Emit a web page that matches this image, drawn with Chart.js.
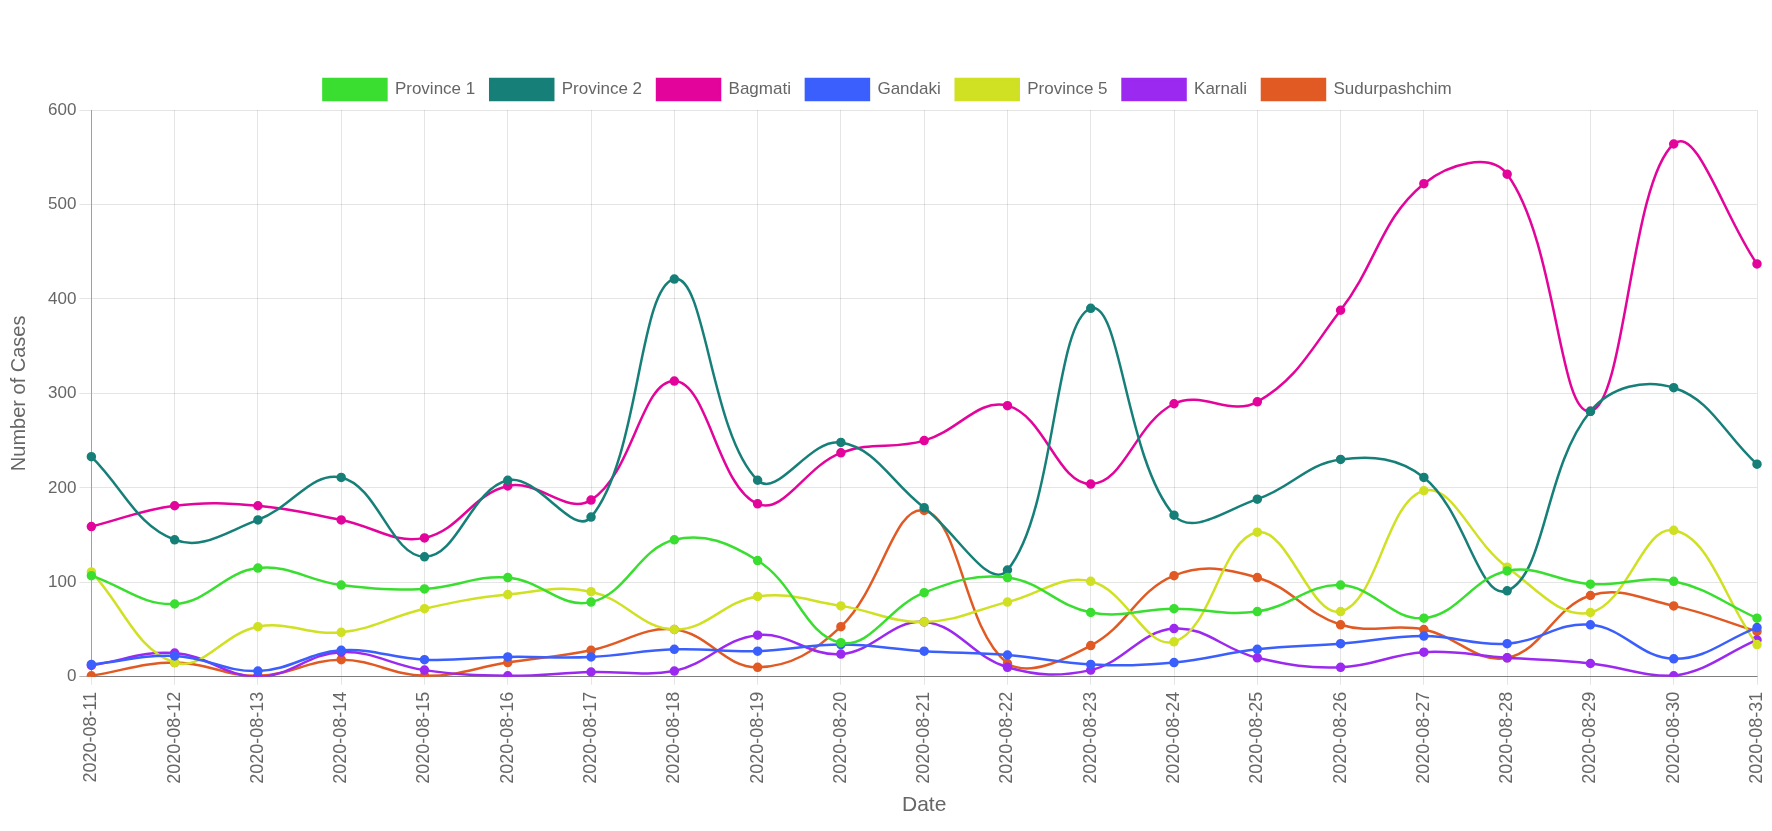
<!DOCTYPE html>
<html lang="en">
<head>
  <meta charset="UTF-8">
  <title>Cases by Province</title>
  <script src="https://cdn.jsdelivr.net/npm/chart.js"></script>
  <style>
    body { margin: 0; background: #fff; }
  </style>
</head>
<body>
  <canvas id="graph" width="1772" height="831"></canvas>

  <script>
    // fechas
    const dates = [
      "2020-08-11", "2020-08-12", "2020-08-13", "2020-08-14", "2020-08-15", "2020-08-16", "2020-08-17",
      "2020-08-18", "2020-08-19", "2020-08-20", "2020-08-21", "2020-08-22", "2020-08-23", "2020-08-24",
      "2020-08-25", "2020-08-26", "2020-08-27", "2020-08-28", "2020-08-29", "2020-08-30", "2020-08-31"
    ];

    const province1 = [107, 77, 115, 97, 93, 105, 79, 145, 123, 36, 89, 105, 68, 72, 69, 97, 62, 112, 98, 101, 62];
    const province2 = [233, 145, 166, 211, 127, 208, 169, 421, 208, 248, 179, 113, 390, 171, 188, 230, 211, 91, 281, 306, 225];
    const bagmati = [159, 181, 181, 166, 147, 202, 187, 313, 183, 237, 250, 287, 204, 289, 291, 388, 522, 532, 281, 564, 437];
    const gandaki = [13, 22, 6, 28, 18, 21, 21, 29, 27, 34, 27, 23, 13, 15, 29, 35, 43, 35, 55, 19, 52];
    const province5 = [111, 15, 53, 47, 72, 87, 90, 50, 85, 75, 58, 79, 101, 37, 153, 69, 197, 116, 68, 155, 34];
    const karnali = [12, 25, 0, 26, 7, 1, 5, 6, 44, 24, 58, 10, 7, 51, 20, 10, 26, 20, 14, 1, 39];
    const sudurpashchim = [1, 15, 1, 18, 1, 15, 28, 50, 10, 53, 176, 14, 33, 107, 105, 55, 50, 20, 86, 75, 48];

    const seriesNames = ["Province 1", "Province 2", "Bagmati", "Gandaki", "Province 5", "Karnali", "Sudurpashchim"];
    const seriesData = [province1, province2, bagmati, gandaki, province5, karnali, sudurpashchim];
    const seriesColors = ["#3ade30", "#167f78", "#e3049b", "#3a5ffd", "#d0e022", "#9c29ef", "#e15a24"];

    const fontFamily = "'Liberation Sans', Arial, sans-serif";

    const datasets = seriesNames.map((name, i) => ({
      label: name,
      data: seriesData[i],
      borderColor: seriesColors[i],
      backgroundColor: seriesColors[i],
      pointBackgroundColor: seriesColors[i],
      pointBorderColor: seriesColors[i],
      pointRadius: 3.5,
      borderWidth: 2.5,
      tension: 0.4,
      fill: false,
    }));

    const ctx = document.getElementById("graph").getContext("2d");
    new Chart(ctx, {
      type: "line",
      data: { labels: dates, datasets: datasets },
      options: {
        responsive: false,
        animation: false,
        layout: { padding: { top: 64, right: 0, left: 3, bottom: 9 } },
        plugins: {
          legend: {
            labels: {
              boxWidth: 63,
              boxHeight: 21,
              padding: 15,
              color: "#666",
              font: { size: 17, family: fontFamily },
            },
          },
          tooltip: { enabled: false },
        },
        scales: {
          x: {
            // el ultimo label no necesita tanto espacio a la derecha
            afterFit: (scale) => { scale.paddingRight = 15; },
            grid: { color: "rgba(0,0,0,0.1)", tickLength: 8 },
            border: { color: "rgba(0,0,0,0.3)" },
            ticks: {
              color: "#666",
              minRotation: 90,
              maxRotation: 90,
              autoSkip: false,
              padding: 7,
              font: { size: 18, family: fontFamily },
            },
            title: {
              display: true,
              text: "Date",
              color: "#666",
              padding: { top: 2, bottom: 4 },
              font: { size: 21, family: fontFamily },
            },
          },
          y: {
            min: 0,
            max: 600,
            grid: {
              tickLength: 12,
              color: (c) => (c.tick.value === 0 ? "rgba(0,0,0,0.3)" : "rgba(0,0,0,0.1)"),
            },
            border: { color: "rgba(0,0,0,0.3)" },
            ticks: {
              stepSize: 100,
              color: "#666",
              padding: 3,
              font: { size: 17, family: fontFamily },
            },
            title: {
              display: true,
              text: "Number of Cases",
              color: "#666",
              padding: { top: 4, bottom: 14 },
              font: { size: 20, family: fontFamily },
            },
          },
        },
      },
    });
  </script>
</body>
</html>
